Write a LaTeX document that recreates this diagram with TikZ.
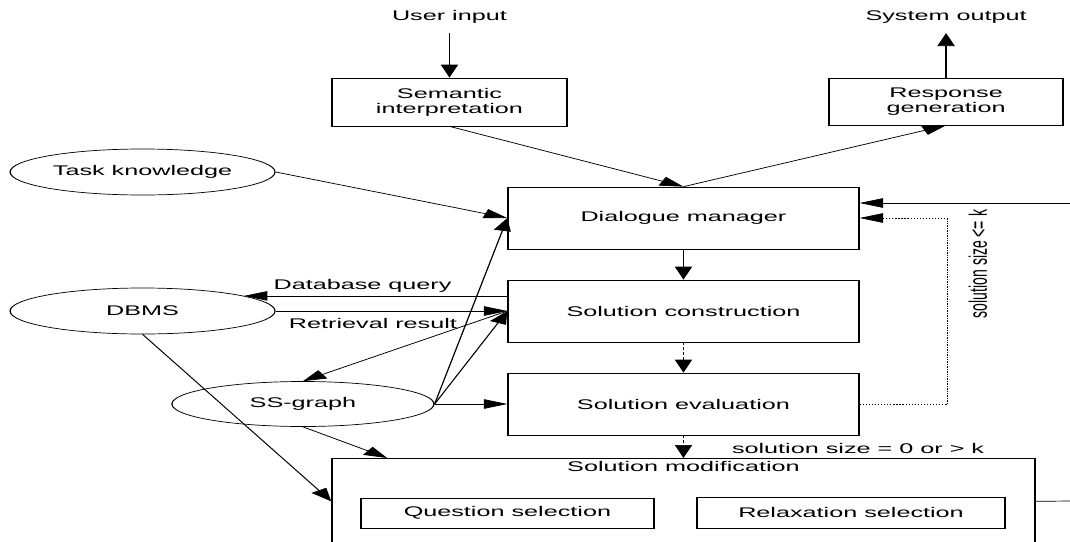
\documentclass[tikz,border=0pt]{standalone}
\usepackage{fontspec}
\setmainfont{Liberation Sans}
\usetikzlibrary{shapes.geometric,arrows.meta}

\tikzset{
  procbox/.style={draw, rectangle, inner sep=0pt, align=center},
  store/.style={draw, ellipse, inner sep=0pt, minimum width=147.2, minimum height=46},
}

\begin{document}
\begin{tikzpicture}[x=1pt, y=-1pt, line width=0.7pt,
    >={Triangle[length=13pt,width=9.5pt]},
    font=\fontsize{14}{15}\selectfont]
  \useasboundingbox (0,0) rectangle (1070,541);
  \begin{scope}[transform canvas={xscale=1.8}]
    % input and output
    \node (user) at (249.7,17) {User input};
    \node (sysout) at (525.6,17) {System output};
    \node (sem) [procbox, minimum width=130.6, minimum height=48] at (249.7,102) {Semantic\\interpretation};
    \node (resp) [procbox, minimum width=130, minimum height=47] at (525.6,101.5) {Response\\generation};
    % main chain
    \node (dm) [procbox, minimum width=195, minimum height=62] at (379.7,218) {Dialogue manager};
    \node (sc) [procbox, minimum width=195, minimum height=62] at (379.7,311) {Solution construction};
    \node (se) [procbox, minimum width=195, minimum height=62] at (379.7,404) {Solution evaluation};
    \node (sm) [procbox, minimum width=390.6, minimum height=86, anchor=north,
      label={[anchor=north, inner sep=3pt]north:Solution modification}] at (379.7,458) {};
    \node (qs) [procbox, minimum width=162.8, minimum height=30] at (281.9,513) {Question selection};
    \node (rs) [procbox, minimum width=171.1, minimum height=31] at (472.8,512.5) {Relaxation selection};
    % knowledge sources
    \node (task) [store] at (79.2,172) {Task knowledge};
    \node (dbms) [store] at (79.2,311) {DBMS};
    \node (ssg) [store, minimum width=145.6, minimum height=45] at (168.3,404) {SS-graph};
    % loose ends on the right
    \coordinate (loopin) at (594.4,203);
    \coordinate (loopout) at (594.4,501);

    \draw[->, shorten <=6pt] (user) -- (sem);
    \draw[->, shorten >=6pt] (resp) -- (sysout);
    \draw[->] (sem.south) -- (dm.north);
    \draw[->] (dm.north) -- (resp.south);
    \draw[->] (task.east) -- (dm.west);
    \draw[->] (ssg.east) -- (dm.west);
    \draw[->] (dm) -- (sc);
    \draw[->] (dbms.15 -| sc.west) -- (dbms.15) node[pos=0.55, above] {Database query};
    \draw[->] (dbms.east) -- (sc.west) node[pos=0.42, below=4pt] {Retrieval result};
    \draw[->] (sc.west) -- (ssg.north);
    \draw[->] (ssg.east) -- (sc.west);
    \draw[->] (ssg.east) -- (se.west);
    \draw[->, densely dashed] (sc.south) -- (se.north);
    \draw[->, densely dashed] (se.south) -- (sm.north);
    \node (zerok) at (476.7,448) {solution size = 0 or > k};
    \draw[->, densely dotted] (se.east) -- ++(49,0) |- (dm.east);
    \node (smallk) [rotate=90] at (543.3,264) {solution size <= k};
    \draw[->] (loopin) -- (dm.east |- loopin);
    \draw (sm.east) -- (loopout);
    \draw[->] (dbms.south) -- (sm.west);
    \draw[->] (ssg.south) -- ([xshift=31.1pt]sm.north west);
  \end{scope}
\end{tikzpicture}
\end{document}
